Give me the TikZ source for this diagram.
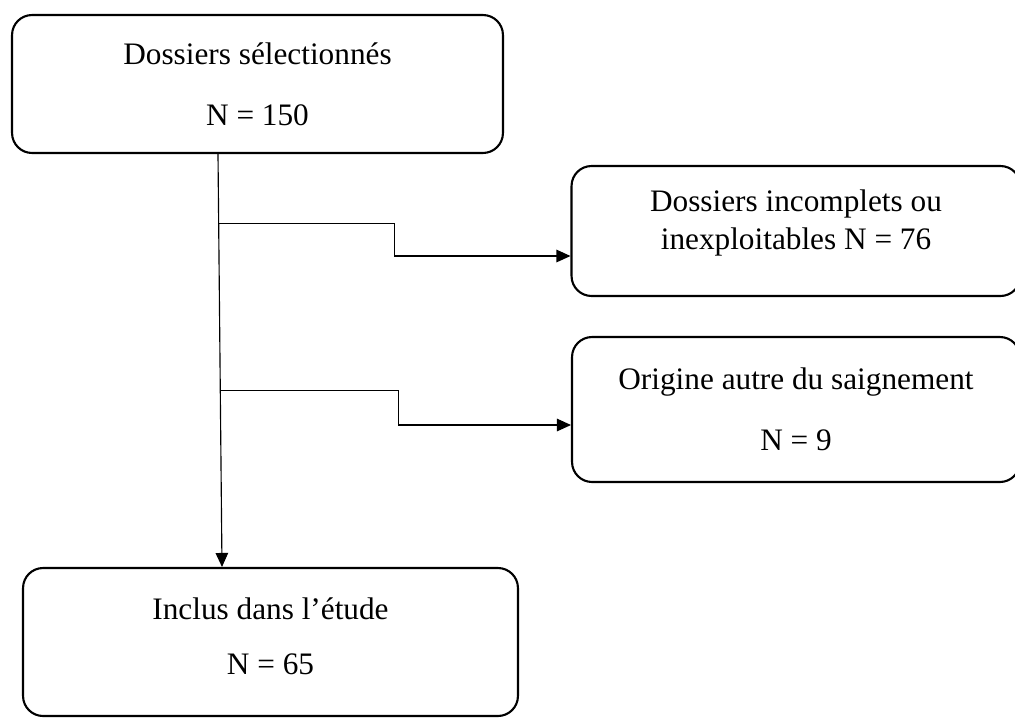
\documentclass[tikz,border=0pt]{standalone}
\usepackage{fontspec}
\setmainfont{Liberation Serif}
\usetikzlibrary{arrows.meta,positioning,calc}
\tikzset{box/.style={draw, rounded corners=0.4cm, line width=1.2pt, align=center, inner sep=0pt,
font=\fontsize{17.8}{21.5}\selectfont},
flow/.style={-{Triangle[length=0.28cm,width=0.25cm]}, line width=0.65pt}}

\begin{document}
\begin{tikzpicture}[x=0.02cm, y=-0.02cm]
        \useasboundingbox (0,0) rectangle (1015,718);

        \node[box, minimum width=9.82cm, minimum height=2.76cm] (sel) at (257.5,84) {Dossiers sélectionnés\\[13pt]N = 150};
        \node[box, minimum width=8.98cm, minimum height=2.6cm, text depth=0.45cm] (inc) at (796,231) {Dossiers incomplets ou\\inexploitables N = 76};
        \node[box, minimum width=8.96cm, minimum height=2.9cm] (ori) at (796,409.5) {Origine autre du saignement\\[13pt]N = 9};
        \node[box, minimum width=9.9cm, minimum height=2.96cm, text depth=0.25cm] (incl) at (270.5,642) {Inclus dans l’étude\\[9.8pt]N = 65};

        \coordinate (top) at ($(sel.south)+(-39.5,0)$);
        \coordinate (bot) at ($(incl.north)+(-48.5,0)$);
        \coordinate (j1) at ($(top)!0.168!(bot)$);
        \coordinate (j2) at ($(top)!0.573!(bot)$);

        \draw[flow] (top) -- (bot);
        \draw[flow] (j1) -- ++(176,0) |- ($(inc.west)+(0,25)$);
        \draw[flow] (j2) -- ++(178,0) |- ($(ori.west)+(0,15.5)$);
\end{tikzpicture}
\end{document}
